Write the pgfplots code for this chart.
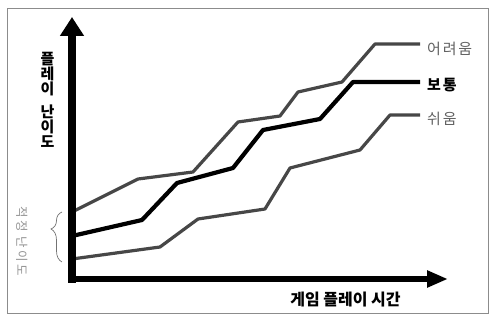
\documentclass[border=0pt]{standalone}
\usepackage{pgfplots}
\pgfplotsset{compat=1.18}
\usepackage{fontspec}
\usetikzlibrary{arrows.meta,decorations.pathreplacing}
\newfontfamily\kr{Noto Sans CJK KR}
\begin{document}
\begin{tikzpicture}
\begin{axis}[scale only axis, width=491pt, height=318pt,
  xmin=0, xmax=491, ymin=0, ymax=318, y dir=reverse,
  hide axis, clip=false]
\coordinate (sw) at (axis cs:0,318);
\coordinate (ne) at (axis cs:491,0);
% frame
\draw[black!45, line width=0.8pt] (axis cs:7,8) rectangle (axis cs:488,313);
% series
\addplot[black!72, line width=3.2pt, line join=round] coordinates {
 (72,212) (138,179) (193,172) (238,122) (280,116) (298,92) (342,82) (375,44) (420,44)};
\addplot[black, line width=4.2pt, line join=round] coordinates {
 (72,236) (142,220) (177,183) (233,168) (263,130) (320,119) (353,82) (420,82)};
\addplot[black!72, line width=3.2pt, line join=round] coordinates {
 (72,259) (160,247) (198,219) (265,209) (290,168) (360,150) (390,115) (420,115)};
% axes arrows
\draw[black, line width=7.5pt, -{Triangle[width=23pt,length=19pt]}] (axis cs:72,283) -- (axis cs:72,17);
\draw[black, line width=6pt, -{Triangle[width=16pt,length=21pt]}] (axis cs:69,279) -- (axis cs:448,279);
% y label stacked
\node[inner sep=0pt, align=center, font=\kr\bfseries\fontsize{15}{15}\selectfont] at (axis cs:47.5,99.5) {플\\레\\이\\[8pt]난\\이\\도};
% x label
\node[font=\kr\bfseries\fontsize{16}{16}\selectfont] at (axis cs:345.5,300) {게임 플레이 시간};
% series labels
\node[anchor=west, inner sep=0pt, text=black!62, font=\kr\fontsize{15}{15}\selectfont\addfontfeatures{LetterSpace=12}] at (axis cs:427,48.5) {어려움};
\node[anchor=west, inner sep=0pt, text=black, font=\kr\bfseries\fontsize{15}{15}\selectfont\addfontfeatures{LetterSpace=12}] at (axis cs:427,85) {보통};
\node[anchor=west, inner sep=0pt, text=black!62, font=\kr\fontsize{15}{15}\selectfont\addfontfeatures{LetterSpace=12}] at (axis cs:427,118.5) {쉬움};
% brace and its label
\draw[black!55, line width=0.7pt, decorate, decoration={brace, amplitude=11pt, aspect=0.66}] (axis cs:62,262) -- (axis cs:62,212);
\node[rotate=-90, text=black!42, font=\kr\fontsize{12.5}{12}\selectfont\addfontfeatures{LetterSpace=18}] at (axis cs:22,241) {적정 난이도};
\end{axis}
\pgfresetboundingbox
\path[use as bounding box] (sw) rectangle (ne);
\end{tikzpicture}
\end{document}
